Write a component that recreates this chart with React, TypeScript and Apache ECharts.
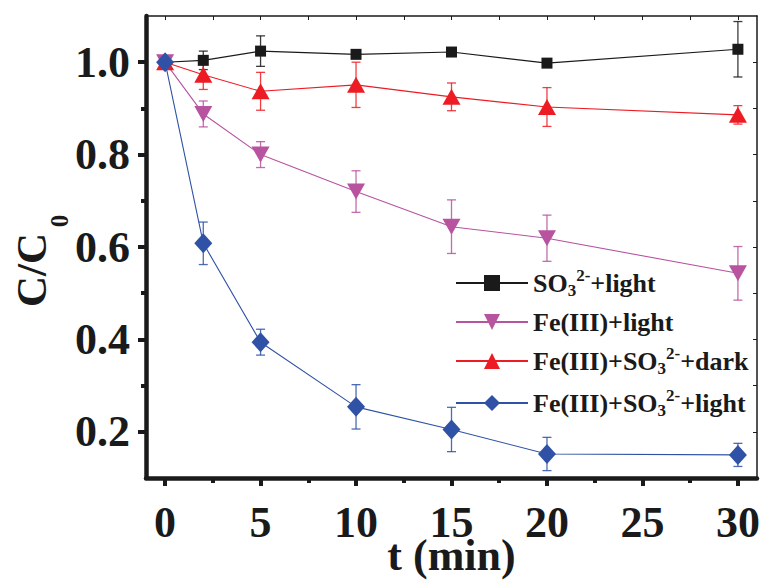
import React, { useEffect, useRef } from 'react';
import * as echarts from 'echarts';

// ---- data ----
const time = [0, 2, 5, 10, 15, 20, 30];
const so3Light = [1.0, 1.004, 1.024, 1.017, 1.022, 0.998, 1.028];
const so3LightErr = [0, 0.02, 0.033, 0.005, 0.004, 0.008, 0.06];
const feLight = [1.0, 0.888, 0.8, 0.72, 0.644, 0.619, 0.543];
const feLightErr = [0, 0.028, 0.028, 0.045, 0.058, 0.05, 0.058];
const feSo3Dark = [1.0, 0.973, 0.937, 0.951, 0.925, 0.903, 0.886];
const feSo3DarkErr = [0, 0.032, 0.041, 0.049, 0.03, 0.042, 0.02];
const feSo3Light = [1.0, 0.608, 0.394, 0.254, 0.205, 0.152, 0.15];
const feSo3LightErr = [0, 0.046, 0.028, 0.048, 0.048, 0.036, 0.025];

const xMajorTicks = [0, 5, 10, 15, 20, 25, 30];
const xMinorTicks = [2.5, 7.5, 12.5, 17.5, 22.5, 27.5];
const xTopTicks = [0, 2.5, 5, 7.5, 10, 12.5, 15, 17.5, 20, 22.5, 25, 27.5, 30];
const yMajorTicks = [0.2, 0.4, 0.6, 0.8, 1.0];
const yMinorTicks = [0.3, 0.5, 0.7, 0.9];
const yRightTicks = [0.2, 0.3, 0.4, 0.5, 0.6, 0.7, 0.8, 0.9, 1.0];

const xTitle = 't (min)';
const yTitleMain = 'C/C';
const yTitleSub = '0';

const seriesNames = ['SO3 2-+light', 'Fe(III)+light', 'Fe(III)+SO3 2-+dark', 'Fe(III)+SO3 2-+light'];
const legendLabels = [
  '{n|SO}{sub|3}{sup|2-}{n|+light}',
  '{n|Fe(III)+light}',
  '{n|Fe(III)+SO}{sub|3}{sup|2-}{n|+dark}',
  '{n|Fe(III)+SO}{sub|3}{sup|2-}{n|+light}',
];

const FONT = "'Liberation Serif', 'Times New Roman', serif";
const INK = '#1a1a1a';
const C_BLACK = '#1a1a1a';
const C_MAG = '#b7539f';
const C_RED = '#ed1c24';
const C_BLUE = '#2f52a6';

function errSeries(vals: number[], errs: number[], color: string) {
  return {
    type: 'custom',
    xAxisIndex: 0,
    yAxisIndex: 0,
    silent: true,
    z: 1,
    encode: { x: 0, y: 1 },
    data: time.map((t, i) => [t, vals[i], errs[i]]),
    renderItem: (params: any, api: any) => {
      const x = api.value(0);
      const y = api.value(1);
      const e = api.value(2);
      if (!e) return { type: 'group', children: [] };
      const top = api.coord([x, y + e]);
      const bot = api.coord([x, y - e]);
      const hw = 4.5;
      const style = { stroke: color, lineWidth: 1.3, opacity: 0.85 };
      return {
        type: 'group',
        children: [
          { type: 'line', shape: { x1: top[0], y1: top[1], x2: bot[0], y2: bot[1] }, style },
          { type: 'line', shape: { x1: top[0] - hw, y1: top[1], x2: top[0] + hw, y2: top[1] }, style },
          { type: 'line', shape: { x1: bot[0] - hw, y1: bot[1], x2: bot[0] + hw, y2: bot[1] }, style },
        ],
      };
    },
  };
}

function lineSeries(name: string, vals: number[], color: string, symbol: string, symbolSize: any, rotate = 0) {
  return {
    type: 'line',
    name,
    xAxisIndex: 0,
    yAxisIndex: 0,
    data: time.map((t, i) => [t, vals[i]]),
    symbol,
    symbolSize,
    symbolRotate: rotate,
    showAllSymbol: true,
    lineStyle: { color, width: 1.1 },
    itemStyle: { color, opacity: 1 },
    z: 3,
  };
}

export default function App() {
  const ref = useRef<HTMLDivElement>(null);
  useEffect(() => {
    if (!ref.current) return;
    document.body.style.margin = '0';
    const chart = echarts.init(ref.current, null, { renderer: 'svg', width: 766, height: 583 });
    const labelStyle = { fontFamily: FONT, fontWeight: 'bold', fontSize: 44, color: INK };
    const option: any = {
      animation: false,
      backgroundColor: '#ffffff',
      grid: { left: 146, right: 9, top: 16, bottom: 105, containLabel: false, outerBoundsMode: 'none' },
      graphic: [
        {
          type: 'text', x: 31, y: 270, rotation: Math.PI / 2, silent: true,
          style: { text: yTitleMain, fontFamily: FONT, fontWeight: 'bold', fontSize: 43, fill: INK, align: 'center', verticalAlign: 'middle' },
        },
        {
          type: 'text', x: 59, y: 221, rotation: Math.PI / 2, silent: true,
          style: { text: yTitleSub, fontFamily: FONT, fontWeight: 'bold', fontSize: 25, fill: INK, align: 'center', verticalAlign: 'middle' },
        },
      ],
      legend: {
        data: seriesNames,
        orient: 'vertical',
        left: 450,
        top: 262,
        itemWidth: 72,
        itemHeight: 20,
        itemGap: 10,
        selectedMode: false,
        formatter: (name: string) => legendLabels[seriesNames.indexOf(name)],
        textStyle: {
          color: INK,
          fontFamily: FONT,
          fontWeight: 'bold',
          fontSize: 26,
          rich: {
            n: { fontFamily: FONT, fontWeight: 'bold', fontSize: 26, lineHeight: 32, color: INK },
            sub: { fontFamily: FONT, fontWeight: 'bold', fontSize: 17, lineHeight: 8, verticalAlign: 'bottom', color: INK },
            sup: { fontFamily: FONT, fontWeight: 'bold', fontSize: 17, lineHeight: 8, verticalAlign: 'top', color: INK },
          },
        },
      },
      xAxis: [
        {
          type: 'value', position: 'bottom', min: -1, max: 31,
          axisLine: { show: true, onZero: false, lineStyle: { color: INK, width: 4.5 } },
          axisTick: { show: true, customValues: xMajorTicks, length: 8, lineStyle: { color: INK, width: 4 } },
          axisLabel: { show: true, customValues: xMajorTicks, margin: 22, ...labelStyle },
          splitLine: { show: false },
          name: xTitle, nameLocation: 'middle', nameGap: 55, nameMoveOverlap: false,
          nameTextStyle: { ...labelStyle, fontSize: 44 },
        },
        {
          type: 'value', position: 'bottom', min: -1, max: 31,
          axisLine: { show: false, onZero: false },
          axisTick: { show: true, customValues: xMinorTicks, length: 5, lineStyle: { color: INK, width: 4 } },
          axisLabel: { show: false },
          splitLine: { show: false },
        },
        {
          type: 'value', position: 'top', min: -1, max: 31,
          axisLine: { show: true, onZero: false, lineStyle: { color: INK, width: 1.5 } },
          axisTick: { show: true, inside: true, customValues: xTopTicks, length: 4, lineStyle: { color: INK, width: 1 } },
          axisLabel: { show: false },
          splitLine: { show: false },
        },
      ],
      yAxis: [
        {
          type: 'value', position: 'left', min: 0.1, max: 1.1,
          axisLine: { show: true, onZero: false, lineStyle: { color: INK, width: 4.5 } },
          axisTick: { show: true, customValues: yMajorTicks, length: 8, lineStyle: { color: INK, width: 4 } },
          axisLabel: { show: true, customValues: yMajorTicks, margin: 16, formatter: (v: number) => v.toFixed(1), ...labelStyle },
          splitLine: { show: false },
        },
        {
          type: 'value', position: 'left', min: 0.1, max: 1.1,
          axisLine: { show: false, onZero: false },
          axisTick: { show: true, customValues: yMinorTicks, length: 5, lineStyle: { color: INK, width: 4 } },
          axisLabel: { show: false },
          splitLine: { show: false },
        },
        {
          type: 'value', position: 'right', min: 0.1, max: 1.1,
          axisLine: { show: true, onZero: false, lineStyle: { color: INK, width: 1.5 } },
          axisTick: { show: true, inside: true, customValues: yRightTicks, length: 4, lineStyle: { color: INK, width: 1 } },
          axisLabel: { show: false },
          splitLine: { show: false },
        },
      ],
      series: [
        errSeries(so3Light, so3LightErr, C_BLACK),
        errSeries(feLight, feLightErr, C_MAG),
        errSeries(feSo3Dark, feSo3DarkErr, C_RED),
        errSeries(feSo3Light, feSo3LightErr, C_BLUE),
        lineSeries(seriesNames[0], so3Light, C_BLACK, 'rect', 11),
        lineSeries(seriesNames[1], feLight, C_MAG, 'triangle', [18, 16], 180),
        lineSeries(seriesNames[2], feSo3Dark, C_RED, 'triangle', [18, 16]),
        lineSeries(seriesNames[3], feSo3Light, C_BLUE, 'diamond', [18, 20]),
      ],
    };
    chart.setOption(option);
    return () => chart.dispose();
  }, []);
  return (
    <div
      ref={ref}
      style={{ position: 'fixed', left: 0, top: 0, width: 766, height: 583, background: '#fff' }}
    />
  );
}
